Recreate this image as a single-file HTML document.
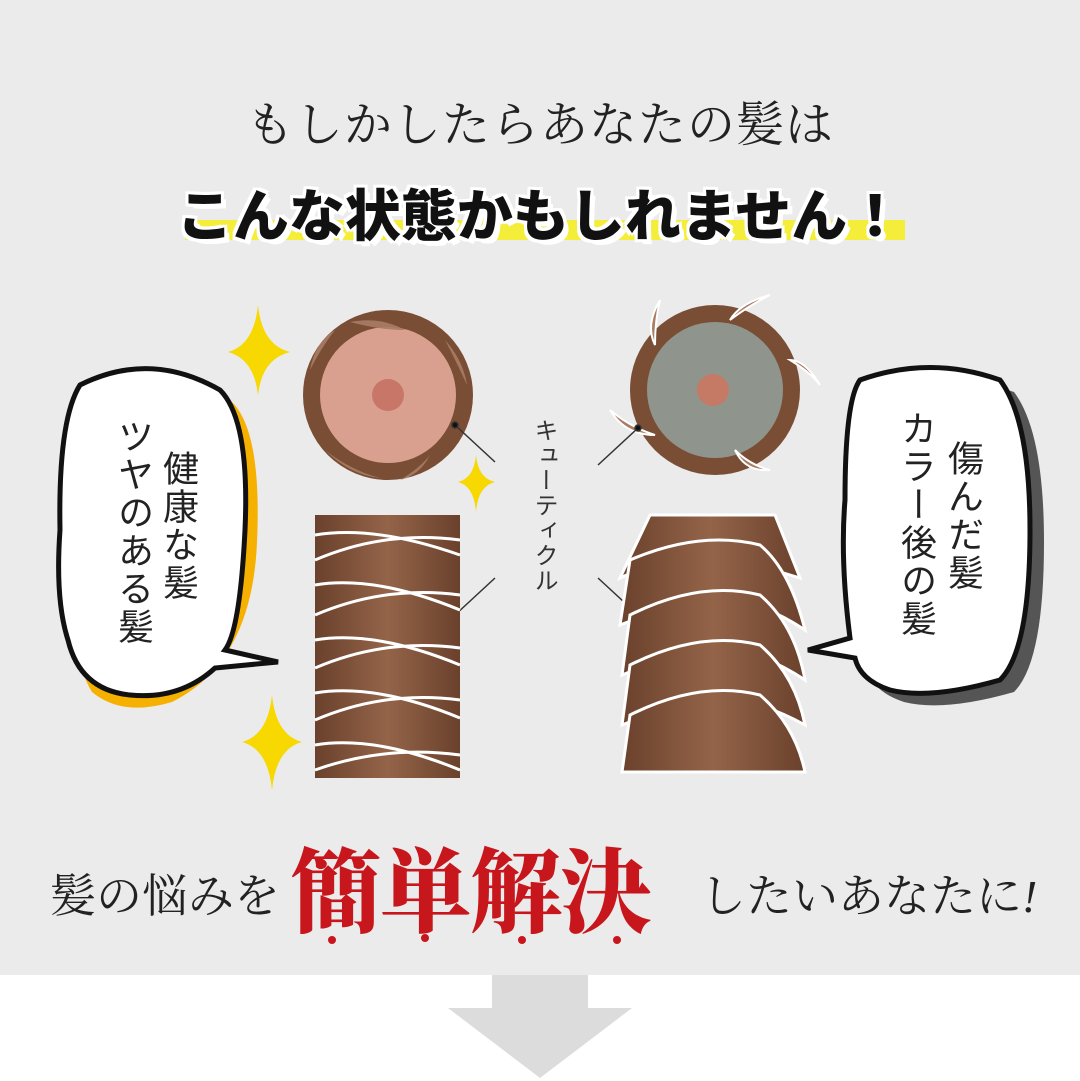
<!DOCTYPE html>
<html><head><meta charset="utf-8"><style>
html,body{margin:0;padding:0}
body{width:1080px;height:1081px;position:relative;overflow:hidden;background:#fff;font-family:"Liberation Sans","Noto Sans CJK JP",sans-serif}
.bg{position:absolute;left:0;top:0;width:1080px;height:975px;background:#ebebeb}
.t1{position:absolute;top:86px;left:0;width:1080px;text-align:center;font-family:"Liberation Serif","Noto Serif CJK SC",serif;font-size:48px;color:#222;letter-spacing:1px}
.hl{position:absolute;left:185px;top:220px;width:720px;height:20px;background:#f4ee3a}
.t2{position:absolute;top:172px;left:0;width:1080px;text-align:center;font-weight:900;font-size:56px;color:#111;text-shadow:3px 0 #fff,-3px 0 #fff,0 3px #fff,0 -3px #fff,3px 3px #fff,-3px -3px #fff,3px -3px #fff,-3px 3px #fff,5px 5px 0 #fff}
.v{position:absolute;writing-mode:vertical-rl;font-size:36px;color:#222;line-height:46px;letter-spacing:2px}
.vc{position:absolute;writing-mode:vertical-rl;font-size:24px;color:#333;left:526px;top:418px;letter-spacing:1px}
.b1{position:absolute;font-family:"Liberation Serif","Noto Serif CJK SC",serif;font-size:46px;color:#222;top:860px}
.big{position:absolute;left:290px;top:820px;font-family:"Liberation Serif","Noto Serif CJK SC",serif;font-weight:900;font-size:92px;color:#c8161d;letter-spacing:-2px}
</style></head><body>
<div class="bg"></div>
<div class="t1">もしかしたらあなたの髪は</div>
<div class="hl"></div>
<div class="t2">こんな状態かもしれません！</div>

<svg width="1080" height="1081" style="position:absolute;left:0;top:0">
<path d="M80 385 Q150 350 220 390 Q250 420 245 530 Q240 650 160 690 Q110 705 80 680 Q55 640 60 530 Q58 420 80 385Z" fill="#f5b000" transform="translate(12,12)"/>
<path d="M80 385 Q150 350 220 390 Q250 420 245 530 Q240 630 225 650 L278 662 L215 668 Q180 700 130 695 Q80 690 68 640 Q55 600 60 530 Q58 420 80 385Z" fill="#fff" stroke="#111" stroke-width="5"/>
<path d="M860 380 Q930 355 1000 380 Q1030 420 1030 530 Q1030 650 1000 680 Q930 700 890 690 Q860 680 855 660 Q840 560 845 500 Q845 400 860 380Z" fill="#555" transform="translate(14,12)"/>
<path d="M860 380 Q930 355 1000 380 Q1030 420 1030 530 Q1030 650 1000 680 Q930 700 890 690 Q860 680 855 658 L808 650 L850 638 Q840 560 845 500 Q845 400 860 380Z" fill="#fff" stroke="#111" stroke-width="5"/>
<circle cx="388" cy="395" r="85" fill="#7a4e35"/>
<circle cx="388" cy="395" r="68" fill="#d9a090"/>
<circle cx="388" cy="395" r="16" fill="#c77667"/>
<g fill="#a97c66" opacity=".9">
<path d="M350 322 q30 -6 55 8 q-25 0 -55 -8z"/><path d="M445 340 q18 20 22 45 q-10 -22 -22 -45z"/><path d="M310 370 q5 -28 25 -40 q-14 18 -25 40z"/><path d="M325 450 q25 25 55 28 q-30 -8 -55 -28z"/><path d="M430 455 q-10 20 -30 25 q20 -12 30 -25z"/>
</g>
<circle cx="715" cy="390" r="85" fill="#7a4e35"/>
<circle cx="715" cy="390" r="68" fill="#8f958c"/>
<circle cx="713" cy="390" r="16" fill="#c47a65"/>
<g fill="#a97c66" stroke="#fff" stroke-width="2">
<path d="M660 300 q-15 25 -5 45 q0 -25 5 -45z"/><path d="M770 295 q-30 8 -40 25 q20 -15 40 -25z"/><path d="M820 385 q-15 -25 -30 -25 q20 12 30 25z"/><path d="M610 410 q15 25 45 25 q-25 -8 -45 -25z"/><path d="M770 470 q-20 -5 -35 -20 q10 22 35 20z"/>
</g>
<g stroke="#333" stroke-width="1.5" fill="#111">
<line x1="455" y1="425" x2="495" y2="462"/><circle cx="455" cy="425" r="3"/>
<line x1="455" y1="615" x2="495" y2="578"/><circle cx="455" cy="615" r="3"/>
<line x1="638" y1="428" x2="598" y2="465"/><circle cx="638" cy="428" r="3"/>
<line x1="638" y1="615" x2="598" y2="578"/><circle cx="638" cy="615" r="3"/>
</g>
<defs><linearGradient id="g1" x1="0" x2="1"><stop offset="0" stop-color="#6a412c"/><stop offset=".5" stop-color="#946449"/><stop offset="1" stop-color="#6a412c"/></linearGradient></defs>
<rect x="315" y="515" width="145" height="263" fill="url(#g1)"/>
<g stroke="#fff" stroke-width="3" fill="none">
<path d="M315 535 q60 -10 145 20"/><path d="M315 560 q70 -30 145 -20"/>
<path d="M315 585 q60 -10 145 25"/><path d="M315 615 q70 -30 145 -20"/>
<path d="M315 640 q60 -10 145 25"/><path d="M315 668 q70 -30 145 -20"/>
<path d="M315 693 q60 -10 145 25"/><path d="M315 720 q70 -30 145 -20"/>
<path d="M315 745 q60 -10 145 25"/><path d="M315 770 q70 -25 145 -15"/>
</g>
<g fill="url(#g1)" stroke="#fff" stroke-width="3">
<path d="M650 515 L775 515 L800 578 Q740 560 700 545 Q660 560 620 578Z"/>
<path d="M630 560 Q700 530 760 545 Q790 570 805 630 Q760 600 710 595 Q660 610 620 625Z"/>
<path d="M630 615 Q700 580 760 595 Q795 625 805 680 Q760 650 710 645 Q660 660 622 675Z"/>
<path d="M630 665 Q700 630 760 645 Q795 675 805 725 Q760 700 710 695 Q660 710 622 725Z"/>
<path d="M630 715 Q700 680 760 695 Q795 725 805 772 L622 772Z"/>
</g>
<g fill="#f7d800">
<path d="M258 305 Q262 345 290 352 Q262 359 258 395 Q254 359 228 352 Q254 345 258 305Z"/>
<path d="M476 455 Q478 478 495 482 Q478 486 476 512 Q474 486 458 482 Q474 478 476 455Z"/>
<path d="M272 695 Q276 735 302 742 Q276 749 272 790 Q268 749 242 742 Q268 735 272 695Z"/>
</g>
<g fill="#c8161d"><circle cx="332" cy="940" r="4"/><circle cx="425" cy="938" r="4"/><circle cx="522" cy="940" r="4"/><circle cx="617" cy="940" r="4"/></g>
<path d="M492 975 L588 975 L588 1008 L632 1008 L540 1078 L448 1008 L492 1008Z" fill="#dcdcdc"/>
</svg>

<div class="v" style="left:155px;top:450px">健康な髪</div>
<div class="v" style="left:110px;top:418px">ツヤのある髪</div>
<div class="v" style="left:940px;top:440px">傷んだ髪</div>
<div class="v" style="left:893px;top:410px">カラー後の髪</div>
<div class="vc">キューティクル</div>

<div class="b1" style="left:50px">髪の悩みを</div>
<div class="big">簡単解決</div>
<div class="b1" style="left:700px">したいあなたに<i>!</i></div>
</body></html>
